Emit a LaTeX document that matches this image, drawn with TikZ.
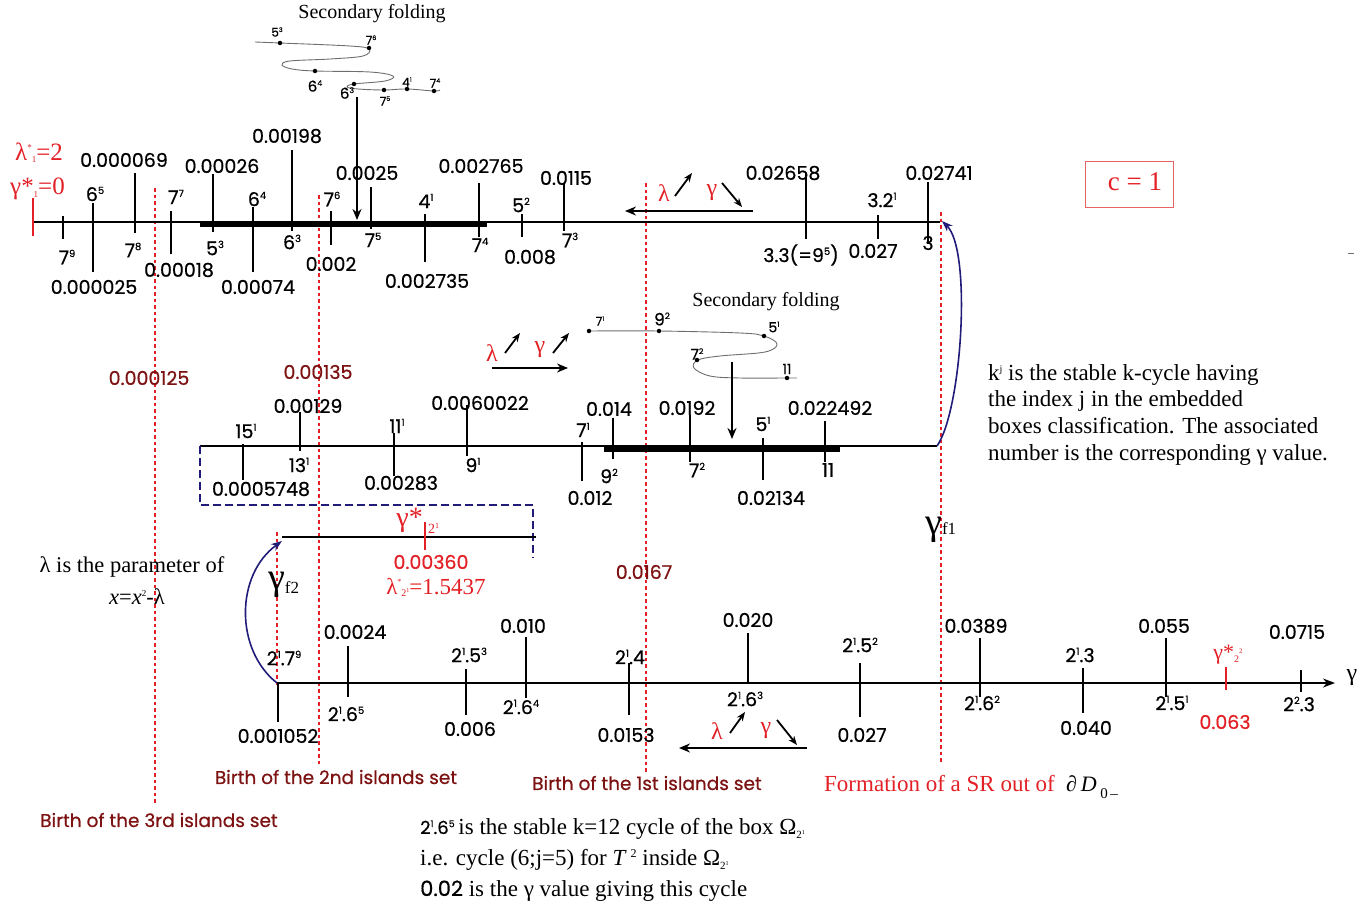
\documentclass[tikz,border=0pt]{standalone}
\usepackage{fontspec}
\setmainfont{Liberation Serif}
\newfontfamily\sanf{Poppins}[FakeBold=0.6]
\usetikzlibrary{arrows.meta}
\definecolor{rd}{RGB}{226,32,38}
\definecolor{mr}{RGB}{125,18,18}
\definecolor{nv}{RGB}{32,28,120}
\definecolor{pk}{RGB}{232,100,100}
\definecolor{gr}{RGB}{110,110,110}
\newcommand\su[1]{\raisebox{0.38em}{\scalebox{0.52}{#1}}}
\newcommand\Tk[3]{\draw[tk] (#1,#2) -- (#1,#3);}
\newcommand\Nm[4]{\node[num] (#1) at (#2,#3) {#4};}
\newcommand\Fl[5]{\node[inner sep=0pt,font=\sanf\fontsize{#4}{#4}\selectfont] (#1) at (#2,#3) {#5};}
\tikzset{
  num/.style={font=\sanf\fontsize{19}{21}\selectfont, inner sep=0pt},
  tk/.style={line width=1.5pt},
  axln/.style={line width=1.5pt},
  bar/.style={line width=5pt},
  rdot/.style={rd, line width=1.6pt, dash pattern=on 3.5pt off 3pt},
  fold/.style={gr, line width=0.9pt},
  dotn/.style={circle, fill=black, inner sep=0pt, minimum size=4.5pt},
  arr/.style={line width=1.8pt, -{Stealth[length=11pt,width=9pt]}},
  sarr/.style={line width=1.8pt, -{Stealth[length=9pt,width=7pt]}},
  barr/.style={nv, line width=1.6pt, -{Stealth[length=11pt,width=8pt]}},
  gk/.style={rd, font=\fontsize{24}{24}\selectfont, inner sep=0pt},
  ser/.style={font=\fontsize{23}{27}\selectfont, inner sep=0pt, anchor=base west},
  birth/.style={mr, font=\sanf\fontsize{18.5}{20}\selectfont, inner sep=0pt},
  ttl/.style={font=\fontsize{20}{20}\selectfont, inner sep=0pt},
}
\begin{document}
\begin{tikzpicture}[x=1pt,y=-1pt]
\useasboundingbox (0,0) rectangle (1371,907);

% red dotted lines
\draw[rdot] (155,188) -- (155,803);
\draw[rdot] (319,195) -- (319,767);
\draw[rdot] (646,183) -- (646,773);
\draw[rdot] (941,212) -- (941,762);
\draw[rdot] (277,532) -- (277,686);

% ===== top axis =====
\draw[axln] (33,222) -- (940,222);
\draw[bar] (200,224) -- (487,224);
\draw[rd, line width=1.5pt] (33,198) -- (33,236);
\Tk{63}{216}{239}\Tk{93}{203}{272}\Tk{135}{173}{233}\Tk{171}{211}{254}
\Tk{213}{174}{232}\Tk{253}{207}{272}\Tk{292}{150}{231}\Tk{331}{211}{245}
\Tk{371}{187}{229}\Tk{425}{214}{262}\Tk{479}{183}{237}\Tk{522}{214}{237}
\Tk{564}{184}{231}\Tk{806}{173}{239}\Tk{878}{215}{239}\Tk{928}{182}{244}
\Nm{a1}{95}{194}{6\su{5}}
\Nm{a2}{124}{160}{0.000069}
\Nm{a3}{176}{197}{7\su{7}}
\Nm{a4}{222}{166}{0.00026}
\Nm{a5}{257}{199}{6\su{4}}
\Nm{a6}{287}{136}{0.00198}
\Nm{a7}{332}{199}{7\su{6}}
\Nm{a8}{367}{173}{0.0025}
\Nm{a9}{426}{201}{4\su{1}}
\Nm{a10}{481}{166}{0.002765}
\Nm{a11}{521}{205}{5\su{2}}
\Nm{a12}{566}{178}{0.0115}
\Nm{a13}{783}{173}{0.02658}
\Nm{a14}{882}{200}{3.2\su{1}}
\Nm{a15}{939}{173}{0.02741}
\Nm{b1}{67}{257}{7\su{9}}
\Nm{b2}{94}{287}{0.000025}
\Nm{b3}{133}{250}{7\su{8}}
\Nm{b4}{179}{270}{0.00018}
\Nm{b5}{215}{248}{5\su{3}}
\Nm{b6}{258}{287}{0.00074}
\Nm{b7}{292}{242}{6\su{3}}
\Nm{b8}{331}{264}{0.002}
\Nm{b9}{373}{240}{7\su{5}}
\Nm{b10}{427}{281}{0.002735}
\Nm{b11}{480}{245}{7\su{4}}
\Nm{b12}{530}{257}{0.008}
\Nm{b13}{570}{240}{7\su{3}}
\Nm{b14}{801}{255}{3.3(=9\su{5})}
\Nm{b15}{873}{251}{0.027}
\Nm{b16}{928}{243}{3}
\node[rd, font=\fontsize{25}{25}\selectfont, anchor=base west, inner sep=0pt] (lam1) at (15,160)
  {λ\raisebox{10pt}{\fontsize{9}{9}\selectfont *}\raisebox{-2pt}{\fontsize{9}{9}\selectfont 1}=2};
\node[rd, font=\fontsize{25}{25}\selectfont, anchor=base west, inner sep=0pt] (gam1) at (10,194)
  {γ*\raisebox{-3pt}{\fontsize{9}{9}\selectfont 1}=0};

% top arrows lambda gamma
\coordinate (t0) at (753,211); \coordinate (t1) at (625,211);
\draw[arr] (t0) -- (t1);
\node[gk] (tl) at (664,193) {λ};
\node[gk] (tg) at (712,193) {γ};
\coordinate (ta0) at (675,196); \coordinate (ta1) at (692,173);
\coordinate (tb0) at (722,183); \coordinate (tb1) at (742,207);
\draw[sarr] (ta0) -- (ta1);
\draw[sarr] (tb0) -- (tb1);

% c = 1 box
\node[draw=pk, line width=1pt, minimum width=88pt, minimum height=46pt, inner sep=0pt] (cbox) at (1129,184) {};
\node[rd, font=\fontsize{27}{27}\selectfont, inner sep=0pt] (ctext) at (1135,182) {c = 1};
\draw[gr, line width=1pt] (1348,253) -- (1354,253);

% ===== secondary folding (top) =====
\node[ttl] (sf1) at (372,14) {Secondary folding};
\draw[fold] plot[smooth, tension=0.6] coordinates {(255,42) (280,43) (350,46) (369,49) (363,56) (330,59) (290,61) (282,65) (292,69) (315,71) (370,72) (393,76) (385,81) (354,84) (347,87) (358,89) (384,90) (407,89) (434,91) (440,90)};
\node[dotn] (p53) at (280,43) {};
\node[dotn] (p76) at (369,48) {};
\node[dotn] (p64) at (315,71) {};
\node[dotn] (p63) at (354,84) {};
\node[dotn] (p75) at (384,90) {};
\node[dotn] (p41) at (407,89) {};
\node[dotn] (p74) at (434,91) {};
\Fl{q53}{277}{32}{12}{5\su{3}}
\Fl{q76}{371}{40}{12}{7\su{6}}
\Fl{q64}{315}{86}{15}{6\su{4}}
\Fl{q63}{347}{93}{15}{6\su{3}}
\Fl{q75}{385}{101}{12}{7\su{5}}
\Fl{q41}{407}{82}{12}{4\su{1}}
\Fl{q74}{435}{83}{12}{7\su{4}}
\coordinate (fa0) at (357,97); \coordinate (fa1) at (357,220);
\draw[arr] (fa0) -- (fa1);

% maroon gamma labels
\node[num, mr] (m1) at (149,378) {0.000125};
\node[num, mr] (m2) at (318,372) {0.00135};
\node[num, mr] (m3) at (644,572) {0.0167};

% ===== middle axis =====
\draw[axln] (200,446) -- (937,446);
\draw[bar] (604,449) -- (840,449);
\Tk{243}{444}{480}\Tk{300}{412}{451}\Tk{394}{433}{476}\Tk{467}{405}{456}
\Tk{582}{442}{481}\Tk{613}{418}{459}\Tk{690}{415}{462}\Tk{763}{438}{480}\Tk{825}{421}{462}
\Nm{c1}{246}{431}{15\su{1}}
\Nm{c2}{308}{406}{0.00129}
\Nm{c3}{397}{426}{11\su{1}}
\Nm{c4}{480}{403}{0.0060022}
\Nm{c5}{583}{430}{7\su{1}}
\Nm{c6}{609}{409}{0.014}
\Nm{c7}{687}{408}{0.0192}
\Nm{c8}{763}{424}{5\su{1}}
\Nm{c9}{830}{408}{0.022492}
\Nm{e1}{261}{489}{0.0005748}
\Nm{e2}{299}{465}{13\su{1}}
\Nm{e3}{401}{483}{0.00283}
\Nm{e4}{473}{465}{9\su{1}}
\Nm{e5}{590}{498}{0.012}
\Nm{e6}{609}{476}{9\su{2}}
\Nm{e7}{697}{470}{7\su{2}}
\Nm{e8}{771}{498}{0.02134}
\Nm{e9}{828}{470}{11}

% secondary folding (middle)
\node[ttl] (sf2) at (766,302) {Secondary folding};
\draw[fold] plot[smooth, tension=0.6] coordinates {(589,331) (659,331) (740,333) (764,336) (777,344) (765,352) (720,356) (698,360) (694,368) (710,376) (740,378) (787,378) (797,378)};
\node[dotn] (r71) at (589,331) {};
\node[dotn] (r92) at (659,331) {};
\node[dotn] (r51) at (764,336) {};
\node[dotn] (r72) at (697,360) {};
\node[dotn] (r11) at (787,378) {};
\Fl{s71}{600}{321}{12}{7\su{1}}
\Fl{s92}{662}{319}{17}{9\su{2}}
\Fl{s51}{774}{327}{14}{5\su{1}}
\Fl{s72}{697}{354}{15}{7\su{2}}
\Fl{s11}{787}{369}{14}{11}
\coordinate (fb0) at (732,362); \coordinate (fb1) at (732,439);
\draw[arr] (fb0) -- (fb1);

% middle lambda gamma arrows
\node[gk] (ml) at (492,353) {λ};
\node[gk] (mg) at (540,350) {γ};
\coordinate (ma0) at (505,353); \coordinate (ma1) at (520,333);
\coordinate (mb0) at (553,353); \coordinate (mb1) at (569,333);
\coordinate (mc0) at (492,368); \coordinate (mc1) at (568,368);
\draw[sarr] (ma0) -- (ma1);
\draw[sarr] (mb0) -- (mb1);
\draw[arr] (mc0) -- (mc1);

% blue arrow f1
\coordinate (f1a) at (937,446); \coordinate (f1b) at (942,221);
\draw[barr] (f1a) .. controls (962,410) and (972,250) .. (f1b);
\node[inner sep=0pt, anchor=base west] (gf1) at (925,534) {\fontsize{38}{38}\selectfont γ\raisebox{0pt}{\fontsize{17}{17}\selectfont f1}};

% right explanation
\node[ser] (k1) at (988,380) {k\raisebox{8pt}{\fontsize{10}{10}\selectfont j} is the stable k-cycle having};
\node[ser] (k2) at (988,406) {the index j in the embedded};
\node[ser] (k3) at (988,433) {boxes classification. The associated};
\node[ser] (k4) at (988,460) {number is the corresponding γ value.};

% dashed blue box
\draw[nv, line width=1.2pt, dash pattern=on 8pt off 4pt] (200,446) -- (200,505) -- (533,505) -- (533,558);

% gamma*_{2^1} line
\draw[axln] (282,537) -- (536,537);
\draw[rd, line width=1.5pt] (425,522) -- (425,550);
\node[rd, font=\fontsize{28}{28}\selectfont, anchor=base east, inner sep=0pt] (gs21) at (423,526) {γ*};
\node[rd, font=\fontsize{14}{14}\selectfont, anchor=base west, inner sep=0pt] (gs21s) at (428,533) {2\raisebox{5pt}{\fontsize{8}{8}\selectfont 1}};
\node[num, rd] (v360) at (431,562) {0.00360};
\node[rd, font=\fontsize{23}{23}\selectfont, inner sep=0pt, anchor=base] (lam21) at (436,594)
  {λ\raisebox{10pt}{\fontsize{8}{8}\selectfont *}\raisebox{-2pt}{\fontsize{10}{10}\selectfont 2\raisebox{4pt}{\fontsize{6}{6}\selectfont 1}}=1.5437};

% blue arrow f2
\coordinate (f2a) at (277,683); \coordinate (f2b) at (282,541);
\draw[barr] (f2a) .. controls (235,650) and (235,575) .. (f2b);
\node[inner sep=0pt, anchor=base west] (gf2) at (268,589) {\fontsize{38}{38}\selectfont γ\raisebox{-4pt}{\fontsize{17}{17}\selectfont f2}};

% lambda parameter text
\node[inner sep=0pt, font=\fontsize{22.5}{22.5}\selectfont] (lp1) at (132,567) {λ is the parameter of};
\node[inner sep=0pt, font=\fontsize{22.5}{22.5}\selectfont] (lp2) at (137,597) {\textit{x}=\textit{x}\raisebox{8pt}{\fontsize{9}{9}\selectfont 2}-λ};

% ===== bottom axis =====
\coordinate (ax0) at (277,683); \coordinate (ax1) at (1335,683);
\draw[axln, -{Stealth[length=12pt,width=9pt]}] (ax0) -- (ax1);
\node[inner sep=0pt, font=\fontsize{24}{24}\selectfont] (gax) at (1352,678) {γ};
\Tk{278}{683}{722}\Tk{348}{646}{697}\Tk{466}{669}{715}\Tk{526}{637}{698}
\Tk{629}{663}{715}\Tk{748}{633}{683}\Tk{860}{663}{717}\Tk{980}{638}{697}
\Tk{1083}{668}{713}\Tk{1166}{638}{697}\Tk{1301}{670}{692}
\draw[rd, line width=1.5pt] (1226,667) -- (1226,690);
\Nm{f1}{284}{658}{2\su{1}.7\su{9}}
\Nm{f2}{355}{632}{0.0024}
\Nm{f3}{469}{655}{2\su{1}.5\su{3}}
\Nm{f4}{523}{626}{0.010}
\Nm{f5}{630}{657}{2\su{1}.4}
\Nm{f6}{748}{620}{0.020}
\Nm{f7}{860}{645}{2\su{1}.5\su{2}}
\Nm{f8}{976}{626}{0.0389}
\Nm{f9}{1080}{655}{2\su{1}.3}
\Nm{f10}{1164}{626}{0.055}
\Nm{f11}{1297}{632}{0.0715}
\Nm{g1}{278}{736}{0.001052}
\Nm{g2}{346}{714}{2\su{1}.6\su{5}}
\Nm{g3}{470}{729}{0.006}
\Nm{g4}{521}{707}{2\su{1}.6\su{4}}
\Nm{g5}{626}{735}{0.0153}
\Nm{g6}{745}{699}{2\su{1}.6\su{3}}
\Nm{g7}{862}{735}{0.027}
\Nm{g8}{982}{703}{2\su{1}.6\su{2}}
\Nm{g9}{1086}{728}{0.040}
\Nm{g10}{1172}{703}{2\su{1}.5\su{1}}
\Nm{g11}{1299}{704}{2\su{2}.3}
\node[num, rd] (g063) at (1225,722) {0.063};
\node[rd, font=\fontsize{22}{22}\selectfont, inner sep=0pt] (gs22) at (1228,655)
  {γ*\raisebox{-3pt}{\fontsize{10}{10}\selectfont 2}\raisebox{6pt}{\fontsize{7}{7}\selectfont 2}};

% bottom lambda gamma arrows
\coordinate (ba0) at (807,748); \coordinate (ba1) at (679,748);
\draw[arr] (ba0) -- (ba1);
\node[gk] (bl) at (717,731) {λ};
\node[gk] (bg) at (766,731) {γ};
\coordinate (bb0) at (730,733); \coordinate (bb1) at (745,712);
\coordinate (bc0) at (777,720); \coordinate (bc1) at (797,745);
\draw[sarr] (bb0) -- (bb1);
\draw[sarr] (bc0) -- (bc1);

% births
\node[birth] (br3) at (159,820) {Birth of the 3rd islands set};
\node[birth] (br2) at (336,777) {Birth of the 2nd islands set};
\node[birth] (br1) at (647,783) {Birth of the 1st islands set};
\node[rd, inner sep=0pt, anchor=base west, font=\fontsize{23}{23}\selectfont] (form) at (824,791) {Formation of a SR out of};
\node[inner sep=0pt, anchor=base west, font=\fontsize{22}{22}\selectfont] (dd) at (1066,791) {∂\,\textit{D}\,\raisebox{-7pt}{\fontsize{15}{15}\selectfont 0\,–}};

% bottom explanation
\node[ser] (bt1) at (420,834) {{\sanf\fontsize{18}{18}\selectfont 2\su{1}.6\su{5}}\,is the stable k=12 cycle of the box Ω\raisebox{-4pt}{\fontsize{11}{11}\selectfont 2\raisebox{4pt}{\fontsize{6}{6}\selectfont 1}}};
\node[ser] (bt2) at (420,865) {i.e. cycle (6;j=5) for \textit{T}\,\raisebox{8pt}{\fontsize{12}{12}\selectfont 2} inside Ω\raisebox{-4pt}{\fontsize{11}{11}\selectfont 2\raisebox{4pt}{\fontsize{6}{6}\selectfont 1}}};
\node[ser] (bt3) at (420,896) {{\sanf\fontsize{21}{21}\selectfont 0.02} is the γ value giving this cycle};
\end{tikzpicture}
\end{document}
